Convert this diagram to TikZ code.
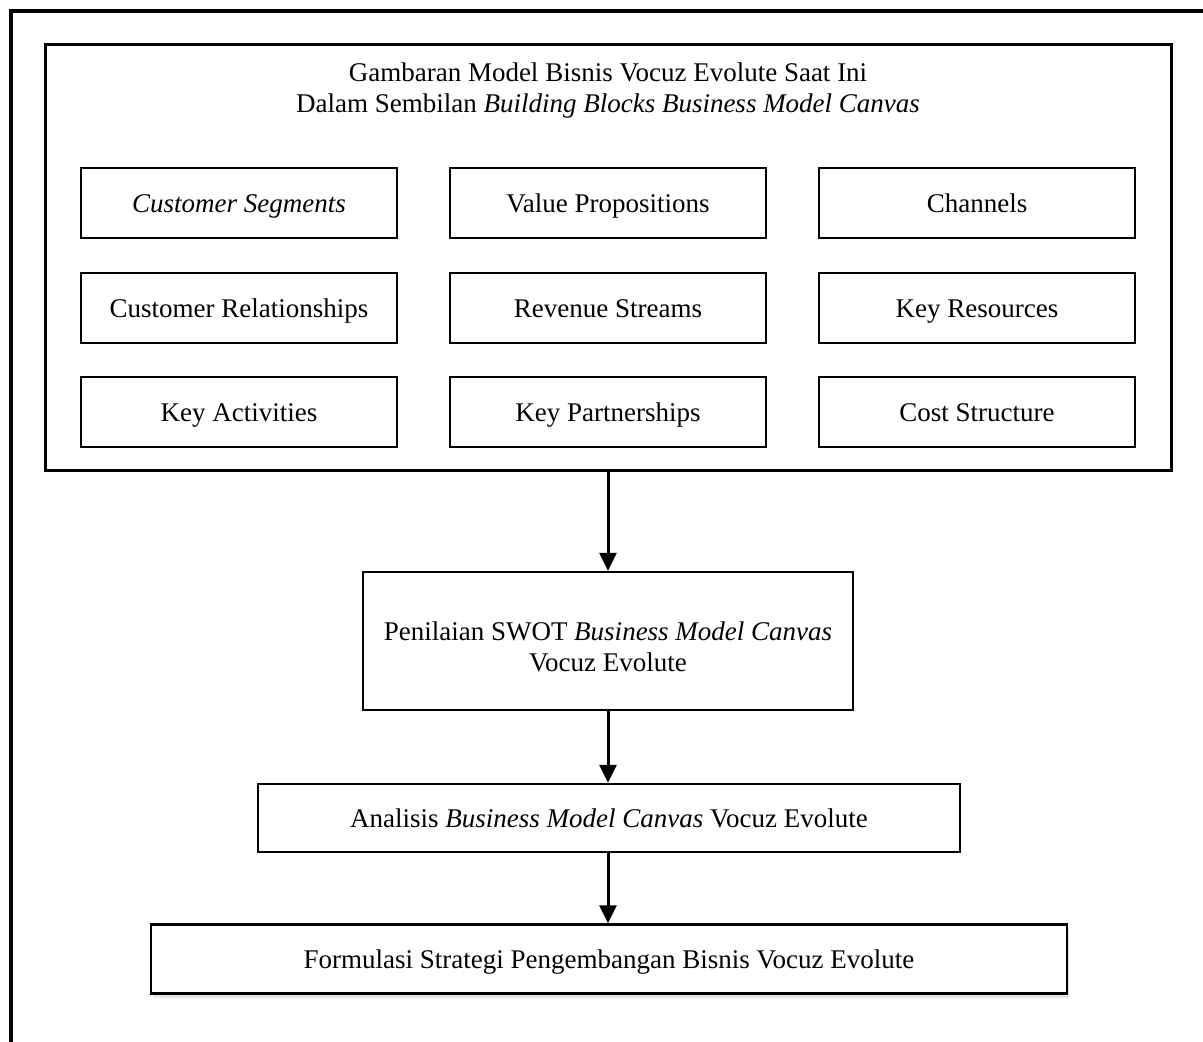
\documentclass[tikz,border=0pt]{standalone}
\usepackage{fontspec}
\setmainfont{Liberation Serif}
\usetikzlibrary{arrows.meta,shadows}

\begin{document}
\begin{tikzpicture}[x=1pt,y=-1pt,
	every node/.style={font=\fontsize{27}{31}\selectfont, align=center, inner sep=0pt},
	oneline/.style={text height=21pt, text depth=2pt},
	block/.style={draw, oneline, line width=2pt, minimum width=316pt, minimum height=70pt},
	stage/.style={draw, line width=2.5pt},
	flow/.style={line width=3pt, -{Triangle[width=17pt,length=18pt]}}]
	\useasboundingbox (0,0) rectangle (1203,1042);
	% outer frame
	\draw[line width=4pt] (11,1042) -- (11,11) -- (1203,11);
	% canvas box
	\node[stage, line width=3pt, minimum width=1126pt, minimum height=426pt] (bmc) at (608,257) {};
	\node (title) at (608,91) {Gambaran Model Bisnis Vocuz Evolute Saat Ini\\Dalam Sembilan \textit{Building Blocks Business Model Canvas}};
	\node[block] (cs) at (239,203) {\textit{Customer Segments}};
	\node[block] (vp) at (608,203) {Value Propositions};
	\node[block] (ch) at (977,203) {Channels};
	\node[block] (cr) at (239,308) {Customer Relationships};
	\node[block] (rs) at (608,308) {Revenue Streams};
	\node[block] (kr) at (977,308) {Key Resources};
	\node[block] (ka) at (239,412) {Key Activities};
	\node[block] (kp) at (608,412) {Key Partnerships};
	\node[block] (cost) at (977,412) {Cost Structure};
	% stages
	\node[stage, minimum width=490pt, minimum height=138pt] (swot) at (608,641) {};
	\node (swottext) at (608,647) {Penilaian SWOT \textit{Business Model Canvas}\\Vocuz Evolute};
	\node[stage, oneline, minimum width=702pt, minimum height=68pt] (anl) at (609,818) {Analisis \textit{Business Model Canvas} Vocuz Evolute};
	\node[stage, oneline, minimum width=916pt, minimum height=69pt, fill=white,
		drop shadow={opacity=0.2, shadow xshift=2pt, shadow yshift=-4pt}] (form) at (609,959) {Formulasi Strategi Pengembangan Bisnis Vocuz Evolute};
	\draw[flow] (bmc.south -| swot.north) -- (swot.north);
	\draw[flow] (swot.south) -- (swot.south |- anl.north);
	\draw[flow] (swot.south |- anl.south) -- (swot.south |- form.north);
\end{tikzpicture}
\end{document}
